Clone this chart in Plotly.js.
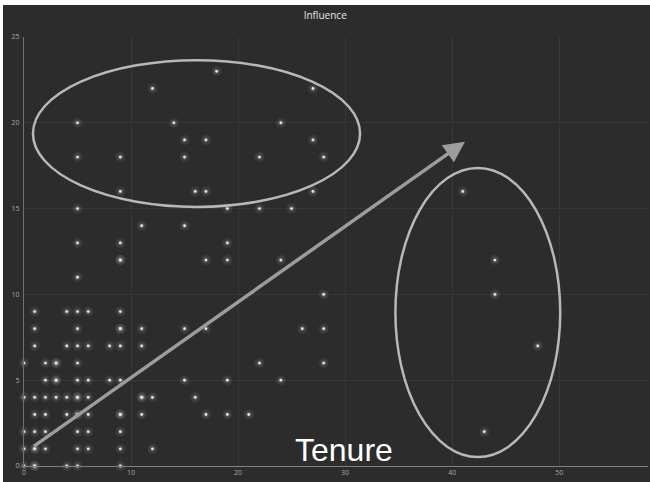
<!DOCTYPE html>
<html>
<head>
<meta charset="utf-8">
<script src="https://cdn.plot.ly/plotly-3.0.1.min.js"></script>
<style>
  html, body { margin: 0; padding: 0; background: #ffffff; width: 650px; height: 482px; overflow: hidden; }
  #chart { position: absolute; left: 3px; top: 5px; width: 647px; height: 477px; }
</style>
</head>
<body>
<div id="chart"></div>
<script>
// Tenure (x) and Influence (y) of each person; repeated pairs overlap and glow brighter
const tenure = [
  1,4,5,6,9,
  1,5,9,9,11,15,17,26,28,
  1,4,5,6,8,9,11,
  0,2,3,3,5,22,28,
  2,3,3,5,6,8,9,15,19,24,
  0,1,2,3,4,5,5,6,11,11,12,16,
  1,2,4,5,5,6,9,9,11,17,19,21,
  0,1,2,5,6,9,43,
  0,1,1,2,5,6,9,12,
  0,1,1,4,5,9,
  28,44,
  5,
  9,9,17,19,24,44,
  5,9,19,
  11,15,
  5,19,22,25,
  9,16,17,27,41,
  5,9,15,22,28,
  15,17,27,
  5,14,24,
  12,27,
  18,
  48
];
const influence = [
  9,9,9,9,9,
  8,8,8,8,8,8,8,8,8,
  7,7,7,7,7,7,7,
  6,6,6,6,6,6,6,
  5,5,5,5,5,5,5,5,5,5,
  4,4,4,4,4,4,4,4,4,4,4,4,
  3,3,3,3,3,3,3,3,3,3,3,3,
  2,2,2,2,2,2,2,
  1,1,1,1,1,1,1,1,
  0,0,0,0,0,0,
  10,10,
  11,
  12,12,12,12,12,12,
  13,13,13,
  14,14,
  15,15,15,15,
  16,16,16,16,16,
  18,18,18,18,18,
  19,19,19,
  20,20,20,
  22,22,
  23,
  7
];

const chartTitle = "Influence";
const annotationText = "Tenure";
const xTicks = [0, 10, 20, 30, 40, 50];
const yTicks = [0, 5, 10, 15, 20, 25];

const halo = {
  x: tenure, y: influence, type: "scatter", mode: "markers",
  marker: { size: 10, color: "rgba(255,255,255,0.07)", line: { width: 0 } },
  hoverinfo: "skip", cliponaxis: false
};
const ring = {
  x: tenure, y: influence, type: "scatter", mode: "markers",
  marker: { size: 5.5, color: "rgba(255,255,255,0.13)", line: { width: 0 } },
  hoverinfo: "skip", cliponaxis: false
};
const core = {
  x: tenure, y: influence, type: "scatter", mode: "markers",
  marker: { size: 2.8, color: "#e4e4e4", line: { width: 0 } },
  cliponaxis: false
};

const layout = {
  width: 647, height: 477,
  margin: { l: 21, r: 2, t: 32, b: 16, pad: 0 },
  paper_bgcolor: "#2c2c2c",
  plot_bgcolor: "#2c2c2c",
  showlegend: false,
  hovermode: false,
  title: {
    text: chartTitle,
    font: { family: "Open Sans, DejaVu Sans, sans-serif", size: 10, color: "#e6e6e6" },
    xref: "container", x: 0.498, xanchor: "center",
    yref: "container", y: 0.977, yanchor: "middle"
  },
  xaxis: {
    range: [0, 58.3], tickvals: xTicks, ticktext: xTicks.map(String),
    showgrid: true, gridcolor: "#373737", gridwidth: 1,
    zeroline: false, showline: true, linecolor: "#808080", linewidth: 1,
    ticks: "", tickfont: { family: "Open Sans, DejaVu Sans, sans-serif", size: 7, color: "#a8a8a8" },
    fixedrange: true
  },
  yaxis: {
    range: [0, 25], tickvals: yTicks, ticktext: yTicks.map(String),
    showgrid: true, gridcolor: "#373737", gridwidth: 1,
    zeroline: false, showline: true, linecolor: "#707070", linewidth: 1,
    ticks: "", ticklabelstandoff: 2,
    tickfont: { family: "Open Sans, DejaVu Sans, sans-serif", size: 7, color: "#a8a8a8" },
    fixedrange: true
  },
  shapes: [
    { type: "circle", xref: "x", yref: "y", x0: 0.84, x1: 31.4, y0: 15.1, y1: 23.65,
      line: { color: "#b8b8b8", width: 2.5 }, fillcolor: "rgba(0,0,0,0)" },
    { type: "circle", xref: "x", yref: "y", x0: 34.7, x1: 50.1, y0: 0.52, y1: 17.37,
      line: { color: "#b8b8b8", width: 2.5 }, fillcolor: "rgba(0,0,0,0)" }
  ],
  annotations: [
    { x: 41.2, y: 18.9, xref: "x", yref: "y", ax: 0.8, ay: 1.1, axref: "x", ayref: "y",
      text: "", showarrow: true, arrowhead: 2, arrowsize: 1.2, arrowwidth: 3.5,
      arrowcolor: "#9c9c9c" },
    { x: 29.9, y: 0.95, xref: "x", yref: "y", text: annotationText, showarrow: false,
      xanchor: "center", yanchor: "middle",
      font: { family: "Liberation Sans, Arial, sans-serif", size: 32, color: "#ffffff" } }
  ]
};

Plotly.newPlot("chart", [halo, ring, core], layout, { displayModeBar: false, staticPlot: true });
</script>
</body>
</html>
